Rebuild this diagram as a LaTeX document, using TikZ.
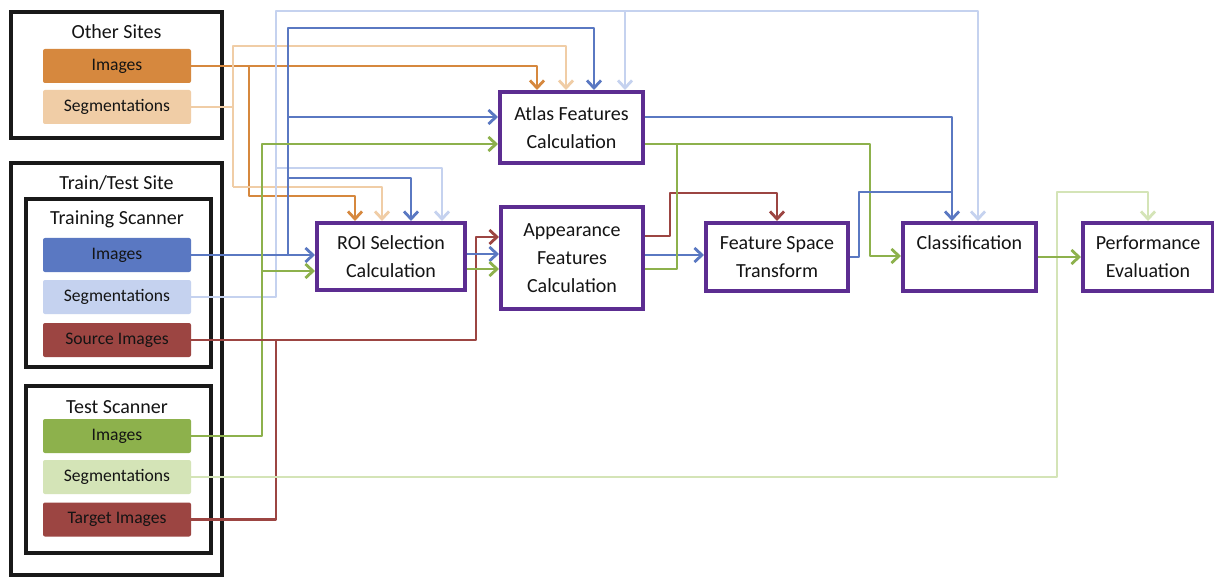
\documentclass[tikz,border=0pt]{standalone}
\usepackage{fontspec}
\setmainfont{Carlito}
\usetikzlibrary{arrows.meta}
\definecolor{cpurple}{HTML}{5C2D91}
\definecolor{corange}{HTML}{D6883E}
\definecolor{clorange}{HTML}{F0CDA6}
\definecolor{cblue}{HTML}{5A78C2}
\definecolor{clblue}{HTML}{C5D2EF}
\definecolor{cred}{HTML}{9C4542}
\definecolor{cgreen}{HTML}{8DB14C}
\definecolor{clgreen}{HTML}{D4E4B7}
\definecolor{ctext}{HTML}{141414}
\begin{document}
\begin{tikzpicture}[x=1pt,y=-1pt,
  outerbox/.style={draw=black!90, line width=4.5pt, inner sep=0pt},
  databox/.style={minimum width=148pt, minimum height=34pt, rounded corners=2pt, inner sep=0pt, text=ctext, font=\fontsize{17.6}{20}\selectfont},
  proc/.style={draw=cpurple, line width=4pt, fill=white, align=center, inner sep=0pt, text=ctext, font=\fontsize{20}{28}\selectfont},
  title/.style={text=ctext, font=\fontsize{20}{24}\selectfont},
  conn/.style={line width=2.8pt, line join=round},
  arr/.style={-{Straight Barb[length=7.5pt,width=14pt]}}
]
\fill[white] (0,0) rectangle (1214,577);
\useasboundingbox (0,0) rectangle (1214,577);

% outer boxes
\node[outerbox, minimum width=211pt, minimum height=126pt] (other) at (116.5,75) {};
\node[outerbox, minimum width=211pt, minimum height=412pt] (site) at (116.5,369) {};
\node[outerbox, minimum width=185pt, minimum height=168pt] (trainsc) at (118.5,283) {};
\node[outerbox, minimum width=185pt, minimum height=167pt] (testsc) at (118.5,469.5) {};

\node[title] (tother) at (116.5,32) {Other Sites};
\node[title] (tsite) at (116.5,183) {Train/Test Site};
\node[title] (ttrain) at (117,219) {Training Scanner};
\node[title] (ttest) at (117,407) {Test Scanner};

% data boxes
\node[databox, fill=corange] (oimg) at (117,66) {Images};
\node[databox, fill=clorange] (oseg) at (117,107) {Segmentations};
\node[databox, fill=cblue] (timg) at (117,255) {Images};
\node[databox, fill=clblue] (tseg) at (117,297) {Segmentations};
\node[databox, fill=cred] (src) at (117,340) {Source Images};
\node[databox, fill=cgreen] (teimg) at (117,436) {Images};
\node[databox, fill=clgreen] (teseg) at (117,477) {Segmentations};
\node[databox, fill=cred] (tgt) at (117,519.5) {Target Images};

% process boxes
\node[proc, minimum width=143pt, minimum height=71pt] (atlas) at (571.5,127.5) {Atlas Features\\Calculation};
\node[proc, minimum width=148pt, minimum height=67pt] (roi) at (391,256.5) {ROI Selection\\Calculation};
\node[proc, minimum width=142pt, minimum height=102pt] (app) at (572,258) {Appearance\\Features\\Calculation};
\node[proc, minimum width=142pt, minimum height=68pt] (fst) at (777,257) {Feature Space\\Transform};
\node[proc, minimum width=133pt, minimum height=68pt] (cls) at (969.5,257) {Classification\\\phantom{X}};
\node[proc, minimum width=130pt, minimum height=68pt] (perf) at (1148,257) {Performance\\Evaluation};

% junction coordinates
\coordinate (jo) at (249,66);
\coordinate (jlo) at (233,46);
\coordinate (jb) at (288,255);
\coordinate (jlb) at (276,168);
\coordinate (jlbt) at (625,11);
\coordinate (jg) at (262,271);
\coordinate (jr) at (276,340);
\coordinate (jag) at (677,144);
\coordinate (jfb) at (952,192);

% orange (other images)
\draw[conn, arr, corange] (oimg.east) -| (atlas.north -| 537,0);
\draw[conn, arr, corange] (jo) -- (249,196) -| (roi.north -| 355,0);
% light orange (other segmentations)
\draw[conn, clorange] (oseg.east) -- (233,107);
\draw[conn, arr, clorange] (233,187) -- (jlo) -| (atlas.north -| 566,0);
\draw[conn, arr, clorange] (233,187) -| (roi.north -| 382,0);

% light blue (training segmentations)
\draw[conn, arr, clblue] (tseg.east) -| (276,11) -| (cls.north -| 978,0);
\draw[conn, arr, clblue] (jlbt) -- (atlas.north -| 625,0);
\draw[conn, arr, clblue] (jlb) -| (roi.north -| 442,0);

% blue (training images)
\draw[conn, arr, cblue] (timg.east) -- (roi.west |- timg.east);
\draw[conn, arr, cblue] (jb) -- (288,28) -| (atlas.north -| 594,0);
\draw[conn, arr, cblue] (288,117) -- (atlas.west |- 0,117);
\draw[conn, arr, cblue] (288,178) -| (roi.north -| 411,0);

% green (test images)
\draw[conn, arr, cgreen] (teimg.east) -| (262,144) -- (atlas.west |- 0,144);
\draw[conn, arr, cgreen] (jg) -- (roi.west |- 0,271);

% red (source / target images)
\draw[conn, arr, cred] (src.east) -| (476,237) -- (app.west |- 0,237);
\draw[conn, cred] (tgt.east) -| (jr);

% light green (test segmentations)
\draw[conn, arr, clgreen] (teseg.east) -| (1057,192) -| (perf.north);

% ROI -> Appearance
\draw[conn, arr, cblue] (roi.east |- 0,254) -- (app.west |- 0,254);
\draw[conn, arr, cgreen] (roi.east |- 0,269) -- (app.west |- 0,269);

% Appearance outputs
\draw[conn, arr, cred] (app.east |- 0,236) -| (670,193) -| (fst.north);
\draw[conn, arr, cblue] (app.east |- 0,255) -- (fst.west |- 0,255);
\draw[conn, cgreen] (app.east |- 0,269) -| (jag);

% Atlas outputs
\draw[conn, arr, cblue] (atlas.east |- 0,117) -| (cls.north -| 952,0);
\draw[conn, arr, cgreen] (atlas.east |- 0,144) -| (870,256) -- (cls.west |- 0,256);

% FST output
\draw[conn, cblue] (fst.east |- 0,257) -| (859,192) -- (jfb);

% Classification -> Performance
\draw[conn, arr, cgreen] (cls.east |- 0,257) -- (perf.west |- 0,257);
\end{tikzpicture}
\end{document}
